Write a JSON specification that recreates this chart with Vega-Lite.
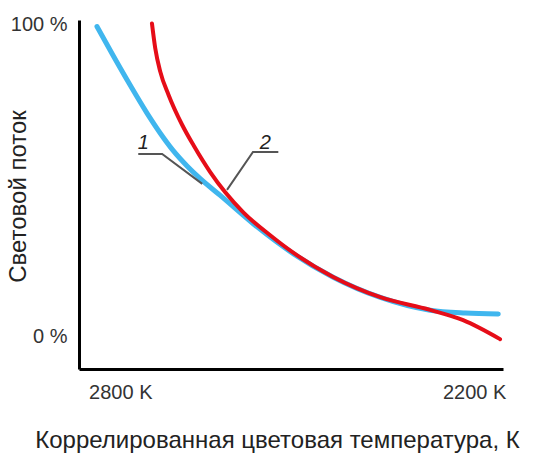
{
  "$schema": "https://vega.github.io/schema/vega-lite/v6.json",
  "width": 424,
  "height": 349,
  "autosize": "none",
  "padding": {"left": 79, "top": 20, "right": 30, "bottom": 89},
  "background": "white",
  "config": {"view": {"stroke": null}, "font": "Liberation Sans"},
  "datasets": {
    "blue": [
      {"T": 2839.5, "P": 99.5}, {"T": 2811.9, "P": 90.1}, {"T": 2783.1, "P": 80.6},
      {"T": 2754.2, "P": 71.5}, {"T": 2732.2, "P": 65.2}, {"T": 2710.2, "P": 59.6},
      {"T": 2686.4, "P": 54.6}, {"T": 2664.4, "P": 50.6}, {"T": 2630.5, "P": 45.2},
      {"T": 2574.6, "P": 36.1}, {"T": 2506.8, "P": 26.5},
      {"T": 2439, "P": 18.9}, {"T": 2359, "P": 12.4}, {"T": 2274.6, "P": 8.3},
      {"T": 2215, "P": 7.4}, {"T": 2159, "P": 7.1}
    ],
    "red": [
      {"T": 2746.3, "P": 100.5}, {"T": 2740.7, "P": 92.5}, {"T": 2732.2, "P": 85.0},
      {"T": 2718.1, "P": 77.5}, {"T": 2695.4, "P": 68.0}, {"T": 2675.8, "P": 61.3},
      {"T": 2647.5, "P": 52.7}, {"T": 2622.0, "P": 46.2}, {"T": 2591.0, "P": 39.7},
      {"T": 2545.8, "P": 32.4}, {"T": 2506.8, "P": 26.8}, {"T": 2439, "P": 19.0},
      {"T": 2359, "P": 12.5}, {"T": 2274.6, "P": 8.4}, {"T": 2218.6, "P": 5.1},
      {"T": 2156, "P": -1.0}
    ],
    "leaders": [
      {"id": 1, "k": 1, "T": 2769.5, "P": 58.5}, {"id": 1, "k": 2, "T": 2729, "P": 58.5}, {"id": 1, "k": 3, "T": 2661, "P": 48.9},
      {"id": 2, "k": 1, "T": 2532, "P": 59.2}, {"id": 2, "k": 2, "T": 2575, "P": 59.2}, {"id": 2, "k": 3, "T": 2619, "P": 47.0}
    ],
    "labels": [
      {"label": "1", "T": 2761, "P": 62.1},
      {"label": "2", "T": 2554, "P": 62.1}
    ]
  },
  "layer": [
    {
      "data": {"name": "blue"},
      "mark": {"type": "line", "color": "#40b6ee", "strokeWidth": 5, "interpolate": "monotone", "strokeCap": "round"},
      "encoding": {
        "x": {
          "field": "T", "type": "quantitative",
          "scale": {"domain": [2151, 2870], "reverse": true, "nice": false, "zero": false},
          "axis": {
            "values": [2800, 2200], "labelExpr": "datum.value + ' K'", "ticks": false, "grid": false,
            "domainColor": "black", "domainWidth": 3, "labelFontSize": 20, "labelColor": "#333",
            "labelPadding": 13, "labelFlush": false,
            "title": "Коррелированная цветовая температура, К", "titleFontSize": 24, "titleFontWeight": "normal",
            "titleColor": "#222", "titleX": 198, "titleY": 71, "titleBaseline": "middle", "titleAlign": "center"
          }
        },
        "y": {
          "field": "P", "type": "quantitative",
          "scale": {"domain": [-10.6, 101.6], "nice": false, "zero": false},
          "axis": {
            "values": [0, 100], "labelExpr": "datum.value + ' %'", "ticks": false, "grid": false,
            "domainColor": "black", "domainWidth": 3, "labelFontSize": 20, "labelColor": "#333",
            "labelPadding": 12, "labelFlush": false,
            "title": "Световой поток", "titleFontSize": 24, "titleFontWeight": "normal",
            "titleColor": "#222", "titleX": -61, "titleY": 176, "titleBaseline": "middle", "titleAlign": "center"
          }
        },
        "order": {"field": "T", "sort": "descending"}
      }
    },
    {
      "data": {"name": "red"},
      "mark": {"type": "line", "color": "#e60d18", "strokeWidth": 4, "interpolate": "monotone", "strokeCap": "round"},
      "encoding": {
        "x": {"field": "T", "type": "quantitative"},
        "y": {"field": "P", "type": "quantitative"},
        "order": {"field": "T", "sort": "descending"}
      }
    },
    {
      "data": {"name": "leaders"},
      "mark": {"type": "line", "color": "#555", "strokeWidth": 2},
      "encoding": {
        "x": {"field": "T", "type": "quantitative"},
        "y": {"field": "P", "type": "quantitative"},
        "detail": {"field": "id"},
        "order": {"field": "k"}
      }
    },
    {
      "data": {"name": "labels"},
      "mark": {"type": "text", "fontSize": 20, "fontStyle": "italic", "color": "#222", "baseline": "middle", "align": "center"},
      "encoding": {
        "x": {"field": "T", "type": "quantitative"},
        "y": {"field": "P", "type": "quantitative"},
        "text": {"field": "label"}
      }
    }
  ]
}
